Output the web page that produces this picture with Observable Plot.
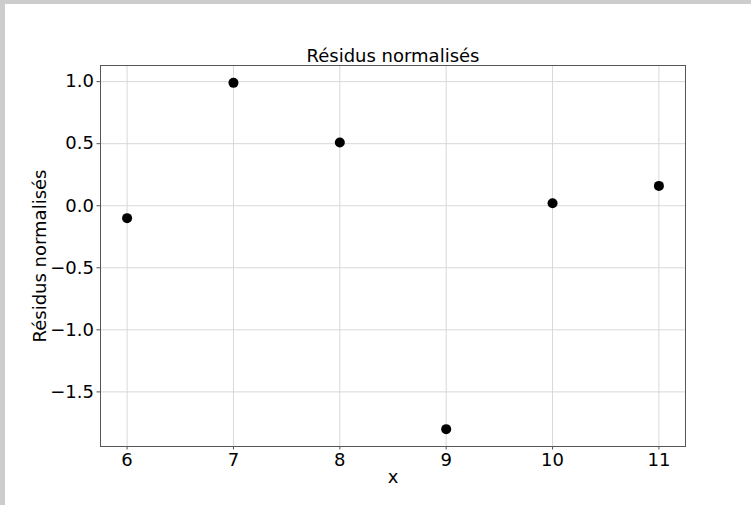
<!DOCTYPE html>
<html>
<head>
<meta charset="utf-8">
<script src="https://cdn.jsdelivr.net/npm/d3@7"></script>
<script src="https://cdn.jsdelivr.net/npm/@observablehq/plot@0.6"></script>
<style>
  html, body { margin: 0; padding: 0; background: #fff; }
  #wrap { position: relative; width: 751px; height: 505px; overflow: hidden; }
  .bandTop { position: absolute; left: 0; top: 0; width: 751px; height: 4px; background: #cccccc; }
  .bandLeft { position: absolute; left: 0; top: 0; width: 5px; height: 505px; background: #cccccc; }
  #chart { position: absolute; left: 0; top: 0; }
  svg { font-family: "DejaVu Sans", sans-serif; }
</style>
</head>
<body>
<div id="wrap">
  <div id="chart"></div>
  <div class="bandTop"></div>
  <div class="bandLeft"></div>
</div>
<script>
const xValues = [6, 7, 8, 9, 10, 11];
const residus = [-0.10, 0.99, 0.51, -1.80, 0.02, 0.16];
const xTicks = [6, 7, 8, 9, 10, 11];
const yTicks = [-1.5, -1.0, -0.5, 0.0, 0.5, 1.0];
const titleText = "Résidus normalisés";
const yLabel = "Résidus normalisés";
const xLabel = "x";

const data = xValues.map((x, i) => ({x, y: residus[i]}));
const fmt = d3.format(".1f");

const plot = Plot.plot({
  width: 751,
  height: 505,
  marginLeft: 100,
  marginRight: 66,
  marginTop: 65,
  marginBottom: 59,
  style: {fontFamily: "DejaVu Sans, sans-serif", fontSize: "18px", background: "transparent", color: "#000"},
  x: {domain: [5.75, 11.25], ticks: xTicks, tickFormat: d => String(d), label: null},
  y: {domain: [-1.94, 1.13], ticks: yTicks, tickFormat: fmt, label: null},
  marks: [
    Plot.gridX(xTicks, {stroke: "#d8d8d8", strokeOpacity: 1, strokeWidth: 1}),
    Plot.gridY(yTicks, {stroke: "#d8d8d8", strokeOpacity: 1, strokeWidth: 1}),
    Plot.axisX(xTicks, {tickSize: 3.5, tickPadding: 3, stroke: "#555", fontSize: 18, fill: "#000", tickFormat: d => String(d), label: null}),
    Plot.axisY(yTicks, {tickSize: 3.5, tickPadding: 3, stroke: "#555", fontSize: 18, fill: "#000", tickFormat: fmt, label: null}),
    Plot.frame({stroke: "#555", strokeWidth: 1}),
    Plot.dot(data, {x: "x", y: "y", r: 5, fill: "#000", stroke: null}),
    Plot.text([titleText], {frameAnchor: "top", lineAnchor: "bottom", dy: -4, fontSize: 18, fill: "#000"}),
    Plot.text([yLabel], {frameAnchor: "left", rotate: -90, dx: -60, textAnchor: "middle", lineAnchor: "middle", fontSize: 18, fill: "#000"}),
    Plot.text([xLabel], {frameAnchor: "bottom", dy: 31, lineAnchor: "middle", fontSize: 18, fill: "#000"})
  ]
});
document.getElementById("chart").appendChild(plot);
</script>
</body>
</html>
